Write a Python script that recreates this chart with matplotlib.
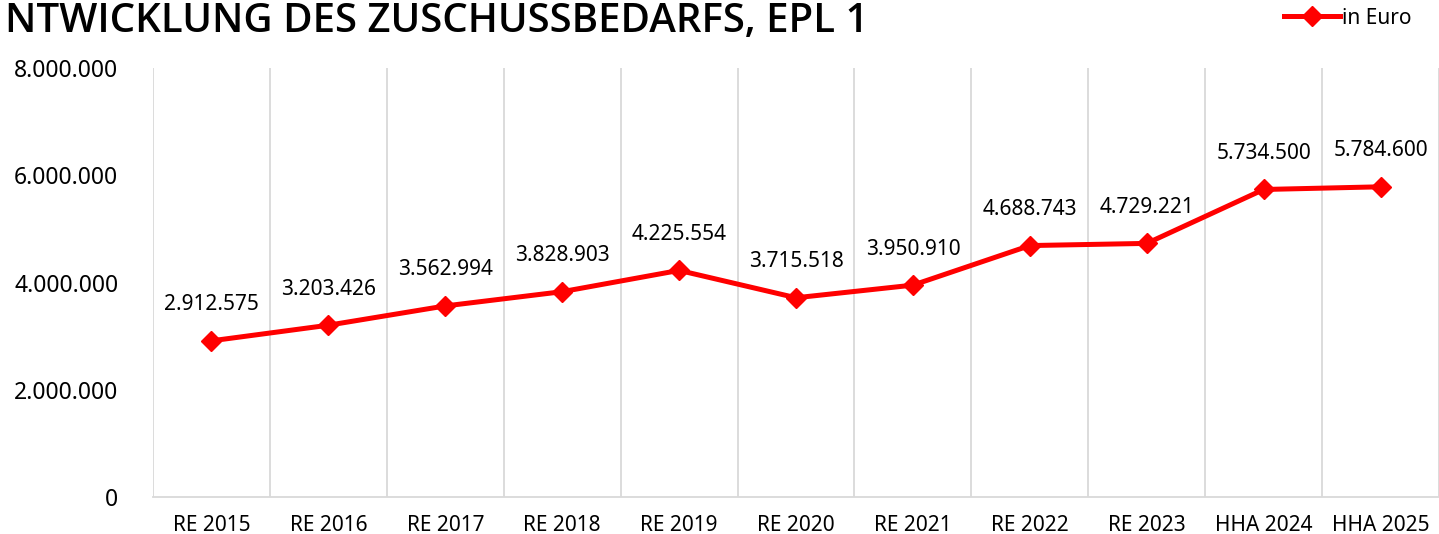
import matplotlib
matplotlib.use("Agg")
import matplotlib.pyplot as plt
import numpy as np

plt.rcParams["font.family"] = ["Noto Sans", "DejaVu Sans"]

categories = ["RE 2015", "RE 2016", "RE 2017", "RE 2018", "RE 2019", "RE 2020",
              "RE 2021", "RE 2022", "RE 2023", "HHA 2024", "HHA 2025"]
values = [2912575, 3203426, 3562994, 3828903, 4225554, 3715518,
          3950910, 4688743, 4729221, 5734500, 5784600]
y_ticks = [0, 2000000, 4000000, 6000000, 8000000]

TITLE = "NTWICKLUNG DES ZUSCHUSSBEDARFS, EPL 1"
RED = "#FF0000"
GRID = "#D9D9D9"


def de_fmt(v):
    return f"{v:,.0f}".replace(",", ".")


fig = plt.figure(figsize=(14.39, 5.34), dpi=100)
ax = fig.add_axes([153 / 1439, 1 - 497 / 534, 1 - 153 / 1439, (497 - 68) / 534])

x = np.arange(len(categories))
ax.plot(x, values, color=RED, lw=3.6, marker="D", ms=10, mfc=RED, mec=RED,
        label="in Euro", solid_joinstyle="round")

for xi, v in zip(x, values):
    ax.annotate(de_fmt(v), (xi, v), xytext=(0, 26), textcoords="offset points",
                ha="center", va="center", fontsize=15, color="#000000")

ax.set_xlim(-0.5, len(categories) - 0.5)
ax.set_ylim(0, 8000000)
ax.set_yticks(y_ticks)
ax.set_yticklabels([de_fmt(t) for t in y_ticks], fontsize=16.5)
ax.set_xticks(x)
ax.set_xticklabels(categories, fontsize=15)
ax.tick_params(axis="y", length=0, pad=25)
ax.tick_params(axis="x", length=0, pad=13)

# vertical gridlines between categories
ax.set_xticks(np.arange(-0.5, len(categories) + 0.5, 1), minor=True)
ax.tick_params(axis="x", which="minor", length=0)
ax.grid(axis="x", which="minor", color=GRID, lw=1.3)
ax.set_axisbelow(True)

for side in ["top", "right", "left"]:
    ax.spines[side].set_visible(False)
ax.spines["bottom"].set_color(GRID)
ax.spines["bottom"].set_linewidth(1.3)

fig.text(5 / 1439, 1 - 32 / 534, TITLE, fontsize=29, fontweight="semibold",
         family=["Open Sans", "DejaVu Sans"],
         ha="left", va="baseline", color="#000000")

fig.legend(loc="center right", bbox_to_anchor=(1420 / 1439, 1 - 18 / 534),
           frameon=False, fontsize=15, handlelength=2.7, handletextpad=0.1,
           borderaxespad=0)

fig.savefig("out.png", dpi=100)
